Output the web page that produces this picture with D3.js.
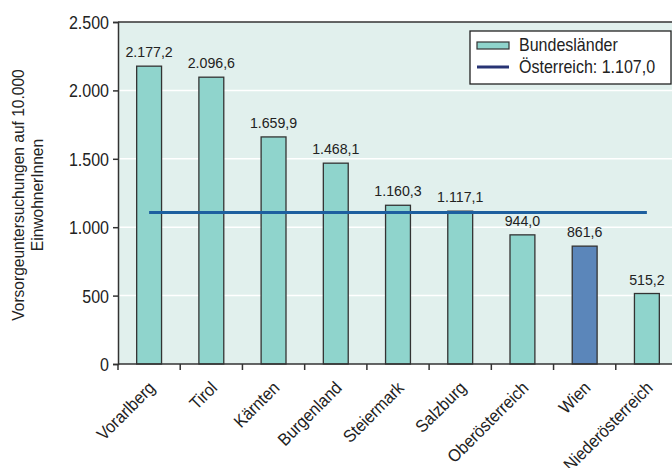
<!DOCTYPE html>
<html>
<head>
<meta charset="utf-8">
<script src="https://cdn.jsdelivr.net/npm/d3@7"></script>
<style>
  html, body { margin: 0; padding: 0; background: #ffffff; }
  svg { display: block; }
  text { font-family: "Liberation Sans", Arial, sans-serif; fill: #222; }
</style>
</head>
<body>
<svg id="chart" width="672" height="468"></svg>
<script>
// ---- data ----
const categories = ["Vorarlberg", "Tirol", "Kärnten", "Burgenland", "Steiermark", "Salzburg", "Oberösterreich", "Wien", "Niederösterreich"];
const values = [2177.2, 2096.6, 1659.9, 1468.1, 1160.3, 1117.1, 944.0, 861.6, 515.2];
const highlighted = ["Wien"];
const austriaValue = 1107.0;
const yTicks = [0, 500, 1000, 1500, 2000, 2500];
const yTitleLines = ["Vorsorgeuntersuchungen auf 10.000", "EinwohnerInnen"];
const legendLabels = ["Bundesländer", "Österreich: 1.107,0"];

// ---- setup ----
const loc = d3.formatLocale({ decimal: ",", thousands: ".", grouping: [3], currency: ["", "€"] });
const fmtVal = loc.format(",.1f");
const fmtTick = loc.format(",.0f");
const SX = 0.915; // horizontal condensing of the font

const svg = d3.select("#chart");
const plot = { left: 118, top: 22, right: 678, bottom: 364 };

const x = d3.scaleBand().domain(categories).range([plot.left, plot.right]).paddingInner(0.6).paddingOuter(0.3);
const y = d3.scaleLinear().domain([0, 2500]).range([plot.bottom, plot.top]);
const step = x.step();

const colBar = "#8fd4cc", colHi = "#5b86ba", colBg = "#e1f0ed", colLine = "#1d5f9f", colLegLine = "#283474";

// helper: condensed text placed via transform
function ctext(sel, tx, ty, rot) {
  return sel.attr("transform", (d, i) => {
    const X = typeof tx === "function" ? tx(d, i) : tx;
    const Y = typeof ty === "function" ? ty(d, i) : ty;
    return `translate(${X},${Y})` + (rot ? ` rotate(${rot})` : "") + ` scale(${SX},1)`;
  });
}

// background
svg.append("rect").attr("x", plot.left).attr("y", plot.top)
  .attr("width", plot.right - plot.left).attr("height", plot.bottom - plot.top).attr("fill", colBg);

// gridlines
svg.append("g").selectAll("line").data(yTicks.filter(t => t > 0 && t < 2500)).join("line")
  .attr("x1", plot.left).attr("x2", plot.right)
  .attr("y1", d => y(d)).attr("y2", d => y(d))
  .attr("stroke", "#ffffff").attr("stroke-width", 1.5);

// top border
svg.append("line").attr("x1", plot.left).attr("x2", plot.right).attr("y1", y(2500)).attr("y2", y(2500))
  .attr("stroke", "#333").attr("stroke-width", 1.5);

// bars
const data = categories.map((c, i) => ({ c, v: values[i] }));
svg.append("g").selectAll("rect").data(data).join("rect")
  .attr("x", d => x(d.c)).attr("width", x.bandwidth())
  .attr("y", d => y(d.v)).attr("height", d => y(0) - y(d.v))
  .attr("fill", d => highlighted.includes(d.c) ? colHi : colBar)
  .attr("stroke", "#333").attr("stroke-width", 1.3);

// value labels
ctext(svg.append("g").selectAll("text").data(data).join("text"),
    d => x(d.c) + x.bandwidth() / 2, d => y(d.v) - 9)
  .attr("text-anchor", "middle").attr("font-size", 15.5)
  .text(d => fmtVal(d.v));

// Austria reference line
const first = categories[0], last = categories[categories.length - 1];
svg.append("line")
  .attr("x1", x(first) + x.bandwidth() / 2).attr("x2", x(last) + x.bandwidth() / 2)
  .attr("y1", y(austriaValue)).attr("y2", y(austriaValue))
  .attr("stroke", colLine).attr("stroke-width", 3);

// y axis
const yAxis = d3.axisLeft(y).tickValues(yTicks).tickFormat(fmtTick).tickSize(5).tickPadding(3);
const gy = svg.append("g").attr("transform", `translate(${plot.left},0)`).call(yAxis);
gy.select(".domain").attr("stroke", "#333").attr("stroke-width", 1.5);
gy.selectAll(".tick line").attr("stroke", "#333").attr("stroke-width", 1.5);
gy.selectAll(".tick text")
  .attr("x", null).attr("dy", null)
  .attr("transform", `translate(-9,6.5) scale(${SX},1)`)
  .attr("font-size", 17.5).attr("fill", "#222")
  .attr("font-family", "'Liberation Sans', Arial, sans-serif");

// x axis: baseline, boundary ticks, rotated labels
svg.append("line").attr("x1", plot.left).attr("x2", plot.right).attr("y1", plot.bottom).attr("y2", plot.bottom)
  .attr("stroke", "#333").attr("stroke-width", 1.5);
const boundaries = d3.range(categories.length + 1);
svg.append("g").selectAll("line").data(boundaries).join("line")
  .attr("x1", i => plot.left + i * step).attr("x2", i => plot.left + i * step)
  .attr("y1", plot.bottom).attr("y2", plot.bottom + 6)
  .attr("stroke", "#333").attr("stroke-width", 1.5);
ctext(svg.append("g").selectAll("text").data(categories).join("text"),
    c => x(c) + x.bandwidth() / 2 + 7, plot.bottom + 25, -45)
  .attr("text-anchor", "end").attr("font-size", 17.5)
  .text(c => c);

// y title
ctext(svg.append("g").selectAll("text").data(yTitleLines).join("text"),
    (d, i) => 24 + i * 19, 195, -90)
  .attr("text-anchor", "middle").attr("font-size", 17)
  .text(d => d);

// legend
const lg = svg.append("g");
lg.append("rect").attr("x", 470).attr("y", 31).attr("width", 201).attr("height", 53)
  .attr("fill", "#ffffff").attr("stroke", "#222").attr("stroke-width", 1.3);
lg.append("rect").attr("x", 477).attr("y", 42).attr("width", 32).attr("height", 7)
  .attr("fill", colBar).attr("stroke", "#333").attr("stroke-width", 1.2);
lg.append("line").attr("x1", 477).attr("x2", 509).attr("y1", 67).attr("y2", 67)
  .attr("stroke", colLegLine).attr("stroke-width", 3);
ctext(lg.selectAll("text").data(legendLabels).join("text"), 519, (d, i) => 51 + i * 22)
  .attr("font-size", 17.5).text(d => d);
</script>
</body>
</html>
